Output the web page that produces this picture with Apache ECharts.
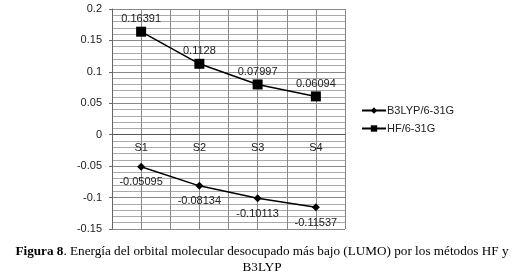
<!DOCTYPE html>
<html>
<head>
<meta charset="utf-8">
<script src="https://cdn.jsdelivr.net/npm/echarts@6/dist/echarts.min.js"></script>
<style>html,body{margin:0;padding:0;background:#fff}#c{width:524px;height:280px}</style>
</head>
<body>
<div id="c"></div>
<script>
var categories = ['S1', 'S2', 'S3', 'S4'];
var b3lyp = [-0.05095, -0.08134, -0.10113, -0.11537];
var hf = [0.16391, 0.1128, 0.07997, 0.06094];
var seriesNames = ['B3LYP/6-31G', 'HF/6-31G'];
var yTicks = [-0.15, -0.1, -0.05, 0, 0.05, 0.1, 0.15, 0.2];
var captionBold = 'Figura 8';
var captionLine1 = '. Energía del orbital molecular desocupado más bajo (LUMO) por los métodos HF y';
var captionLine2 = 'B3LYP';

function pts(arr) { return arr.map(function (v, i) { return [i + 1, v]; }); }
var font = 'Liberation Sans, Arial, sans-serif';
var serif = 'Liberation Serif, Times New Roman, serif';
var gridTop = 9, gridBottom = 51, H = 280;
var yMin = yTicks[0], yMax = yTicks[yTicks.length - 1];
var plotH = H - gridTop - gridBottom;
// distance from bottom of plot to the zero line, so the category axis sits on y = 0
var zeroOffset = -plotH * (0 - yMin) / (yMax - yMin);
var chart = echarts.init(document.getElementById('c'));
chart.setOption({
  animation: false,
  grid: { left: 112, right: 179, top: gridTop, bottom: gridBottom },
  xAxis: {
    type: 'value', min: 0.5, max: 4.5, interval: 0.5, offset: zeroOffset,
    axisLine: { onZero: false, lineStyle: { color: '#555', width: 1 } },
    axisTick: { show: false },
    axisLabel: {
      margin: 8, color: '#222', fontFamily: font, fontSize: 11,
      formatter: function (v) { return Number.isInteger(v) ? categories[v - 1] : ''; }
    },
    splitLine: { show: true, lineStyle: { color: '#888', width: 1 } }
  },
  yAxis: {
    type: 'value', min: yMin, max: yMax, interval: 0.05,
    axisLine: { show: true, onZero: false, lineStyle: { color: '#666' } },
    axisTick: { show: true, length: 3, lineStyle: { color: '#666' } },
    axisLabel: {
      margin: 10, color: '#222', fontFamily: font, fontSize: 11,
      formatter: function (v) { return String(parseFloat(v.toFixed(2))); }
    },
    splitLine: { show: true, lineStyle: { color: '#888', width: 1 } },
    minorTick: { show: false, splitNumber: 5 },
    minorSplitLine: { show: true, lineStyle: { color: '#aaa', width: 1 } }
  },
  legend: {
    orient: 'vertical', left: 356, top: 100, itemWidth: 24, itemHeight: 8, itemGap: 7,
    textStyle: { color: '#222', fontFamily: font, fontSize: 11, padding: [0, 0, 0, -4] },
    data: seriesNames
  },
  series: [
    {
      name: seriesNames[0], type: 'line', data: pts(b3lyp),
      symbol: 'diamond', symbolSize: 8,
      itemStyle: { color: '#000' }, lineStyle: { color: '#000', width: 1.5 },
      label: { show: true, position: 'bottom', distance: 6, color: '#222', fontFamily: font, fontSize: 11,
        formatter: function (p) { return String(p.value[1]); } }
    },
    {
      name: seriesNames[1], type: 'line', data: pts(hf),
      symbol: 'rect', symbolSize: 10,
      itemStyle: { color: '#000' }, lineStyle: { color: '#000', width: 1.5 },
      label: { show: true, position: 'top', distance: 2, color: '#222', fontFamily: font, fontSize: 11,
        formatter: function (p) { return String(p.value[1]); } }
    }
  ],
  graphic: [{
    type: 'text', left: 'center', top: 245,
    style: {
      text: '{b|' + captionBold + '}' + captionLine1,
      fill: '#000', font: '13.2px ' + serif,
      rich: { b: { fontFamily: serif, fontSize: 13.2, fontWeight: 'bold', fill: '#000' } }
    }
  }, {
    type: 'text', left: 'center', top: 261,
    style: { text: captionLine2, fill: '#000', font: '13.2px ' + serif }
  }]
});
</script>
</body>
</html>
